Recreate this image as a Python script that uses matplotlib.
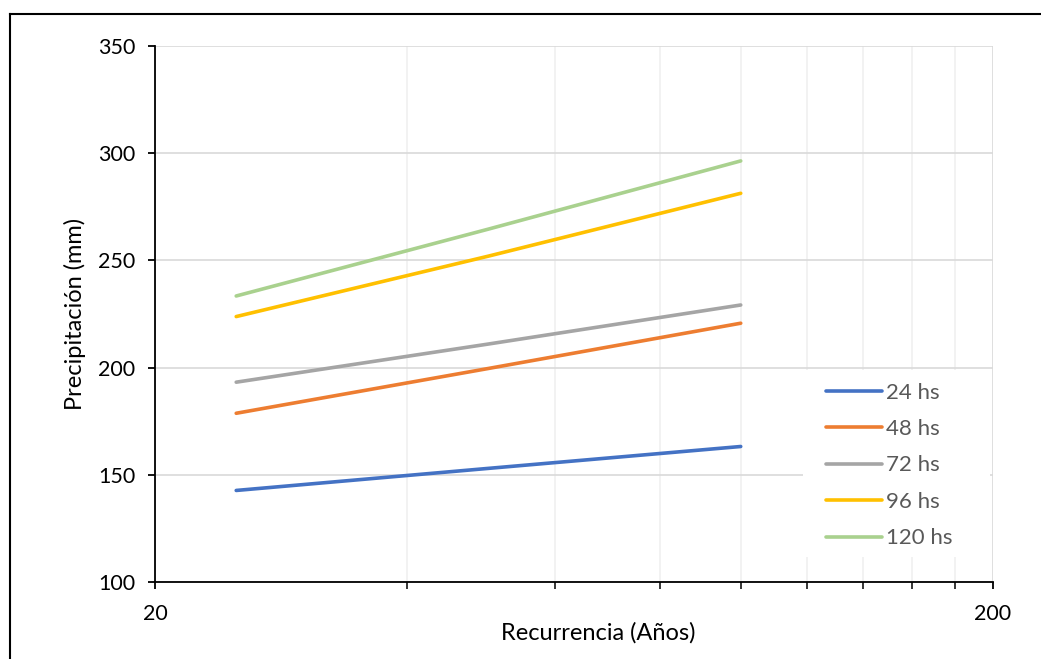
import numpy as np
import matplotlib
matplotlib.use("Agg")
import matplotlib.pyplot as plt
from matplotlib.ticker import FixedLocator, FixedFormatter, NullFormatter
from matplotlib.lines import Line2D
from matplotlib.patches import Rectangle

# Return periods (years) and precipitation for each duration
recurrencia = [25, 50, 100]
p_24 = [142.7, 153.0, 163.2]
p_48 = [178.7, 199.6, 220.7]
p_72 = [193.2, 211.0, 229.2]
p_96 = [223.8, 252.0, 281.3]
p_120 = [233.4, 264.6, 296.4]

series = [p_24, p_48, p_72, p_96, p_120]
labels = ["24 hs", "48 hs", "72 hs", "96 hs", "120 hs"]
colors = ["#4472C4", "#ED7D31", "#A5A5A5", "#FFC000", "#A9D18E"]

plt.rcParams['font.family'] = ['Lato', 'DejaVu Sans']

fig = plt.figure(figsize=(10.41, 6.59), dpi=100)
ax = fig.add_axes([155/1041, 1 - 582/659, (993 - 155)/1041, (582 - 46)/659])

for vals, lab, col in zip(series, labels, colors):
    ax.plot(recurrencia, vals, color=col, lw=2.6, label=lab, solid_capstyle='round', zorder=3)

ax.set_xscale('log')
ax.set_xlim(20, 200)
ax.set_ylim(100, 350)
ax.xaxis.set_major_locator(FixedLocator([20, 200]))
ax.xaxis.set_major_formatter(FixedFormatter(["20", "200"]))
ax.xaxis.set_minor_locator(FixedLocator([40, 60, 80, 100, 120, 140, 160, 180]))
ax.xaxis.set_minor_formatter(NullFormatter())
ax.set_yticks([100, 150, 200, 250, 300, 350])

ax.grid(True, which='major', color='#D9D9D9', lw=1.2)
ax.grid(True, which='minor', axis='x', color='#F0F0F0', lw=1.2)
ax.set_axisbelow(True)

for s in ['top', 'right']:
    ax.spines[s].set_visible(False)
for s in ['left', 'bottom']:
    ax.spines[s].set_color('black')
    ax.spines[s].set_linewidth(1.3)

ax.tick_params(axis='both', which='major', length=5, width=1.3, labelsize=15.5, colors='black')
ax.tick_params(axis='x', which='major', pad=11)
ax.tick_params(axis='y', which='major', pad=9)
ax.tick_params(axis='x', which='minor', length=5, width=1.1, colors='black')

ax.set_xlabel("Recurrencia (Años)", fontsize=17)
ax.set_ylabel("Precipitación (mm)", fontsize=17)
ax.xaxis.set_label_coords(0.529, -0.074)
ax.yaxis.set_label_coords(-0.082, 0.5)

# white box behind the legend hiding the gridlines
ax.add_patch(Rectangle((0.773, 0.047), 0.224, 0.349, transform=ax.transAxes,
                       facecolor='white', edgecolor='none', zorder=1))

leg = ax.legend(loc='upper left', bbox_to_anchor=(0.8007, 0.372), frameon=False,
                fontsize=16, handlelength=2.5, labelspacing=0.74, borderpad=0.0,
                handletextpad=0.2, borderaxespad=0.0)
for t in leg.get_texts():
    t.set_color('#595959')

# outer chart border (left and top visible)
fig.add_artist(Line2D([9.5/1041, 9.5/1041], [0, 1 - 13.5/659], color='black', lw=1.5))
fig.add_artist(Line2D([9.5/1041, 1], [1 - 13.5/659, 1 - 13.5/659], color='black', lw=1.5))

fig.savefig("out.png", dpi=100)
